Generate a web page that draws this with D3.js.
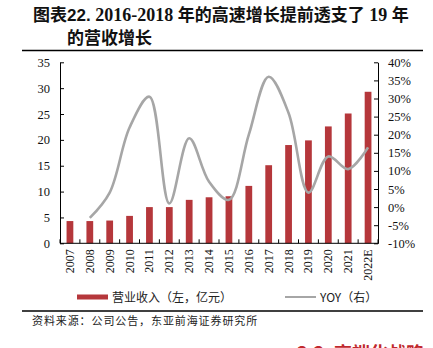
<!DOCTYPE html>
<html><head><meta charset="utf-8">
<script src="https://cdn.jsdelivr.net/npm/d3@7"></script>
<style>body{margin:0;background:#fff}svg{display:block}</style>
</head><body>
<script>
const years = ["2007","2008","2009","2010","2011","2012","2013","2014","2015","2016","2017","2018","2019","2020","2021","2022E"];
const revenue = [4.3,4.3,4.4,5.3,7.0,7.0,8.4,8.9,9.1,11.1,15.1,19.0,19.9,22.6,25.1,29.3];
const yoy = [null,-3,4,22,30.5,1,19,7,2,20,36,26,4,14,10.5,16.5];
const leftTicks = [0,5,10,15,20,25,30,35];
const rightTicks = [-10,-5,0,5,10,15,20,25,30,35,40];

const W = 433, H = 348;
const svg = d3.select("body").append("svg").attr("width", W).attr("height", H);
const m = {l:60, r:378, t:62.3, b:243.3};

const x = d3.scaleBand().domain(years).range([m.l, m.r]).paddingInner(0.66).paddingOuter(0.33);
const yL = d3.scaleLinear().domain([0,35]).range([m.b, m.t]);
const yR = d3.scaleLinear().domain([-10,40]).range([m.b, m.t]);

const serif = "'Liberation Serif','Times New Roman',serif";
const cjk = "'Noto Sans CJK SC','Noto Sans',sans-serif";

// title
const title = svg.append("text").attr("x", 33).attr("y", 21).attr("font-weight","bold").attr("font-size","17px").attr("fill","#111");
title.append("tspan").attr("font-family", cjk).text("图表");
title.append("tspan").attr("font-family", "'Liberation Sans',Arial,sans-serif").text("22.");
title.append("tspan").attr("font-family", serif).attr("font-size","18px").text(" 2016-2018 ");
title.append("tspan").attr("font-family", cjk).text("年的高速增长提前透支了");
title.append("tspan").attr("font-family", serif).attr("font-size","18px").text(" 19 ");
title.append("tspan").attr("font-family", cjk).text("年");
svg.append("text").attr("x", 67).attr("y", 44).attr("font-weight","bold").attr("font-size","17px")
  .attr("font-family", cjk).attr("fill","#111").text("的营收增长");

// frame lines
svg.append("line").attr("x1",22).attr("x2",423).attr("y1",50.5).attr("y2",50.5).attr("stroke","#000").attr("stroke-width",1.5);
svg.append("line").attr("x1",22).attr("x2",423).attr("y1",311).attr("y2",311).attr("stroke","#000").attr("stroke-width",1.5);

// bars
svg.append("g").selectAll("rect").data(years).join("rect")
  .attr("x", d => x(d)).attr("width", x.bandwidth())
  .attr("y", (d,i) => yL(revenue[i])).attr("height", (d,i) => yL(0) - yL(revenue[i]))
  .attr("fill", "#b5373b");

// line
const pts = years.map((d,i) => ({x: x(d) + x.bandwidth()/2, v: yoy[i]})).filter(p => p.v !== null);
svg.append("path").datum(pts)
  .attr("d", d3.line().x(p => p.x).y(p => yR(p.v)).curve(d3.curveCatmullRom.alpha(0.5)))
  .attr("fill","none").attr("stroke","#a6a6a6").attr("stroke-width",2.6);

// axes
const ax = svg.append("g").attr("transform", `translate(0,${m.b})`);
ax.append("line").attr("x1", m.l).attr("x2", m.r).attr("stroke","#000");
const bounds = d3.range(years.length + 1).map(i => m.l + i * (m.r - m.l) / years.length);
ax.selectAll("line.t").data(bounds).join("line").attr("class","t")
  .attr("x1", d => d).attr("x2", d => d).attr("y1", 0).attr("y2", -4).attr("stroke","#000");
ax.selectAll("text").data(years).join("text")
  .attr("transform", d => `translate(${x(d) + x.bandwidth()/2 + 4},6) rotate(-90)`)
  .attr("text-anchor","end").attr("font-family", serif).attr("font-size","12px").attr("fill","#111")
  .text(d => d);

const axL = svg.append("g").attr("transform", `translate(${m.l},0)`)
  .call(d3.axisLeft(yL).tickValues(leftTicks).tickSizeInner(-4).tickSizeOuter(0).tickPadding(10));
const axR = svg.append("g").attr("transform", `translate(${m.r},0)`)
  .call(d3.axisRight(yR).tickValues(rightTicks).tickSizeInner(-4).tickSizeOuter(0).tickPadding(10).tickFormat(d => d + "%"));
[axL, axR].forEach(a => {
  a.select(".domain").attr("stroke","#000");
  a.selectAll(".tick line").attr("stroke","#000");
  a.selectAll("text").attr("font-family", serif).attr("font-size","12.5px").attr("fill","#111");
});

// legend
svg.append("rect").attr("x",77).attr("y",294.5).attr("width",31).attr("height",5).attr("fill","#b5373b");
svg.append("text").attr("x",112).attr("y",301.5).attr("font-family",cjk).attr("font-size","12px").attr("fill","#222").text("营业收入（左，亿元）");
svg.append("line").attr("x1",285).attr("x2",316).attr("y1",297).attr("y2",297).attr("stroke","#a6a6a6").attr("stroke-width",2);
svg.append("text").attr("x",320).attr("y",301.5).attr("font-family",cjk).attr("font-size","12px").attr("fill","#222").text("YOY（右）");

// source
svg.append("text").attr("x",32).attr("y",325).attr("font-family",cjk).attr("font-size","11px")
  .attr("letter-spacing","0.9px").attr("fill","#222").text("资料来源：公司公告，东亚前海证券研究所");

// next section heading, cut off at the bottom edge as in the reference
svg.append("text").attr("x",297).attr("y",360).attr("font-family",cjk).attr("font-weight","bold")
  .attr("font-size","18px").attr("fill","#c0282d").text("3.3. 高端化战略");
</script>
</body></html>
